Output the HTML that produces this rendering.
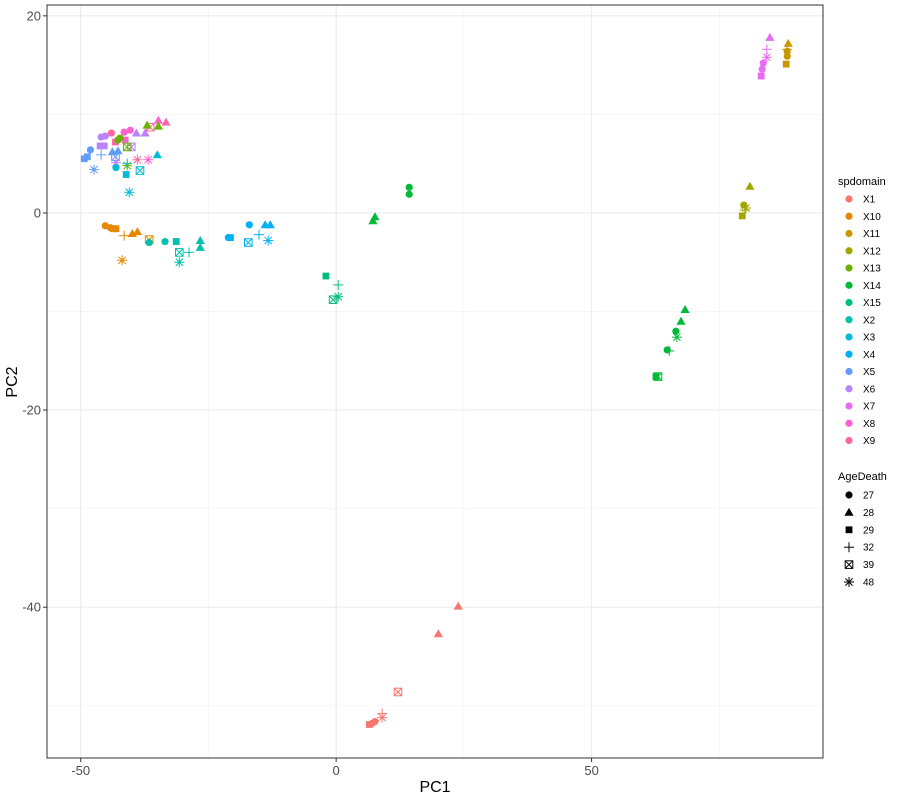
<!DOCTYPE html>
<html><head><meta charset="utf-8"><style>
body{margin:0;background:#fff;font-family:"Liberation Sans",sans-serif}
</style></head><body>
<svg id="c" width="900" height="800" xmlns="http://www.w3.org/2000/svg" font-family="Liberation Sans, sans-serif"></svg>
<script>
const groups=["X1","X10","X11","X12","X13","X14","X15","X2","X3","X4","X5","X6","X7","X8","X9"];
const colors=["#F8766D","#E58700","#C99800","#A3A500","#6BB100","#00BA38","#00BF7D","#00C0AF","#00BCD8","#00B0F6","#619CFF","#B983FF","#E76BF3","#FD61D1","#FF67A4"];
const ages=["27","28","29","32","39","48"];
const xTicks=[-50,0,50];
const yTicks=[20,0,-20,-40];
// [group index, age index, PC1, PC2]
const points=[
[0,0,7.0,-51.8],[0,0,7.6,-51.6],[0,2,6.5,-51.9],[0,3,9.0,-50.8],[0,5,9.0,-51.2],[0,4,12.1,-48.6],[0,1,20.0,-42.7],[0,1,23.9,-39.9],
[5,0,14.3,2.6],[5,0,14.3,1.9],[5,1,7.6,-0.4],[5,1,7.2,-0.8],
[5,1,68.3,-9.8],[5,1,67.5,-11.0],[5,0,66.5,-12.0],[5,5,66.7,-12.6],[5,0,64.8,-13.9],[5,3,65.2,-14.0],[5,2,62.6,-16.6],[5,4,63.0,-16.6],
[6,2,-2.0,-6.4],[6,3,0.4,-7.3],[6,4,-0.6,-8.8],[6,5,0.4,-8.5],
[3,1,81.0,2.7],[3,0,79.8,0.8],[3,5,80.2,0.5],[3,3,80.0,0.3],[3,2,79.5,-0.3],
[2,1,88.5,17.2],[2,0,88.3,16.4],[2,0,88.3,15.9],[2,2,88.1,15.1],[2,3,88.3,16.6],
[12,1,84.9,17.8],[12,3,84.3,16.6],[12,5,84.3,15.8],[12,0,83.6,15.2],[12,0,83.4,14.6],[12,2,83.2,13.9],
[1,0,-45.2,-1.3],[1,0,-44.2,-1.5],[1,2,-43.6,-1.6],[1,2,-43.1,-1.6],[1,3,-41.5,-2.3],[1,1,-39.9,-2.1],[1,1,-38.9,-1.9],[1,4,-36.6,-2.7],[1,5,-41.9,-4.8],
[7,0,-36.6,-3.0],[7,0,-33.5,-2.9],[7,2,-31.3,-2.9],[7,4,-30.7,-4.0],[7,3,-28.8,-4.0],[7,5,-30.7,-5.0],[7,1,-26.6,-2.8],[7,1,-26.6,-3.5],
[9,0,-21.1,-2.5],[9,0,-17.0,-1.2],[9,2,-20.7,-2.5],[9,1,-13.9,-1.2],[9,1,-12.9,-1.2],[9,3,-15.1,-2.2],[9,4,-17.2,-3.0],[9,5,-13.3,-2.8],
[10,2,-49.3,5.5],[10,2,-48.7,5.7],[10,0,-48.1,6.4],[10,3,-46.0,5.9],[10,5,-47.4,4.4],[10,1,-43.8,6.2],[10,1,-42.7,6.3],[10,4,-43.2,5.7],
[11,0,-46.0,7.7],[11,0,-45.2,7.8],[11,2,-46.2,6.8],[11,2,-45.4,6.8],[11,1,-39.1,8.1],[11,1,-37.4,8.1],[11,4,-40.1,6.7],[11,5,-43.1,5.1],
[14,0,-44.0,8.1],[13,0,-41.5,8.2],[13,0,-40.3,8.4],[14,2,-43.2,7.2],[13,2,-41.3,7.4],[13,1,-34.8,9.4],[14,1,-33.3,9.2],[14,4,-36.4,8.7],[14,5,-38.9,5.4],[13,5,-36.8,5.4],
[4,0,-42.7,7.4],[4,0,-42.3,7.6],[4,1,-37.0,8.9],[4,1,-34.8,8.8],[4,4,-40.9,6.7],[4,5,-40.9,4.8],
[8,0,-43.1,4.6],[8,2,-41.1,3.9],[8,1,-35.0,5.9],[8,4,-38.4,4.3],[8,5,-40.5,2.1],[8,3,-40.9,5.0]
];
const svg=document.getElementById('c');const NS="http://www.w3.org/2000/svg";
const L=47,R=823,T=5,B=758,xmin=-56.6,xmax=95.3,ymin=-55.3,ymax=21.1;
const X=v=>L+(v-xmin)/(xmax-xmin)*(R-L);
const Y=v=>B-(v-ymin)/(ymax-ymin)*(B-T);
function el(t,a,p){const e=document.createElementNS(NS,t);for(const k in a)e.setAttribute(k,a[k]);(p||svg).appendChild(e);return e;}
el('rect',{x:L,y:T,width:R-L,height:B-T,fill:'#fff'});
const grid=el('g',{});
[-25,25,75].forEach(v=>el('line',{x1:X(v),x2:X(v),y1:T,y2:B,stroke:'#f2f2f2','stroke-width':0.6},grid));
[10,-10,-30,-50].forEach(v=>el('line',{x1:L,x2:R,y1:Y(v),y2:Y(v),stroke:'#f2f2f2','stroke-width':0.6},grid));
xTicks.forEach(v=>el('line',{x1:X(v),x2:X(v),y1:T,y2:B,stroke:'#ebebeb','stroke-width':1.1},grid));
yTicks.forEach(v=>el('line',{x1:L,x2:R,y1:Y(v),y2:Y(v),stroke:'#ebebeb','stroke-width':1.1},grid));
function shape(s,cx,cy,col,p){
 const r=3.6;
 if(s===0)return el('circle',{cx,cy,r,fill:col},p);
 if(s===1)return el('polygon',{points:`${cx},${cy-4.6} ${cx-4.6},${cy+3.4} ${cx+4.6},${cy+3.4}`,fill:col},p);
 if(s===2)return el('rect',{x:cx-3.4,y:cy-3.4,width:6.8,height:6.8,fill:col},p);
 const g=el('g',{stroke:col,'stroke-width':1,fill:'none'},p);
 if(s===3){el('line',{x1:cx-5,x2:cx+5,y1:cy,y2:cy},g);el('line',{x1:cx,x2:cx,y1:cy-5,y2:cy+5},g);}
 if(s===4){el('rect',{x:cx-3.8,y:cy-3.8,width:7.6,height:7.6},g);el('line',{x1:cx-3.8,x2:cx+3.8,y1:cy-3.8,y2:cy+3.8},g);el('line',{x1:cx-3.8,x2:cx+3.8,y1:cy+3.8,y2:cy-3.8},g);}
 if(s===5){el('line',{x1:cx-5,x2:cx+5,y1:cy,y2:cy},g);el('line',{x1:cx,x2:cx,y1:cy-5,y2:cy+5},g);el('line',{x1:cx-3.6,x2:cx+3.6,y1:cy-3.6,y2:cy+3.6},g);el('line',{x1:cx-3.6,x2:cx+3.6,y1:cy+3.6,y2:cy-3.6},g);}
 return g;
}
const pts=el('g',{});
points.forEach(p=>{const m=shape(p[1],X(p[2]),Y(p[3]),colors[p[0]],pts);

});
el('rect',{x:L,y:T,width:R-L,height:B-T,fill:'none',stroke:'#333','stroke-width':1});
xTicks.forEach(v=>{el('line',{x1:X(v),x2:X(v),y1:B,y2:B+4,stroke:'#333'});const t=el('text',{x:X(v),y:B+17,'text-anchor':'middle','font-size':13,fill:'#4d4d4d'});t.textContent=v;});
yTicks.forEach(v=>{el('line',{x1:L-4,x2:L,y1:Y(v),y2:Y(v),stroke:'#333'});const t=el('text',{x:L-6,y:Y(v)+4.5,'text-anchor':'end','font-size':13,fill:'#4d4d4d'});t.textContent=v;});
let t=el('text',{x:435,y:792,'text-anchor':'middle','font-size':16,fill:'#000'});t.textContent='PC1';
t=el('text',{x:17,y:382,'text-anchor':'middle','font-size':16,fill:'#000',transform:'rotate(-90 17 382)'});t.textContent='PC2';
const lg=el('g',{});
t=el('text',{x:838,y:185,'font-size':11,fill:'#000'},lg);t.textContent='spdomain';
groups.forEach((g,i)=>{const y=199+i*17.25;el('circle',{cx:849,cy:y,r:3.6,fill:colors[i]},lg);const tt=el('text',{x:863,y:y+3.5,'font-size':10,fill:'#000'},lg);tt.textContent=g;});
t=el('text',{x:838,y:480,'font-size':11,fill:'#000'},lg);t.textContent='AgeDeath';
ages.forEach((a,i)=>{const y=495+i*17.4;shape(i,849,y,'#000',lg);const tt=el('text',{x:863,y:y+3.5,'font-size':10,fill:'#000'},lg);tt.textContent=a;});
</script>
</body></html>
